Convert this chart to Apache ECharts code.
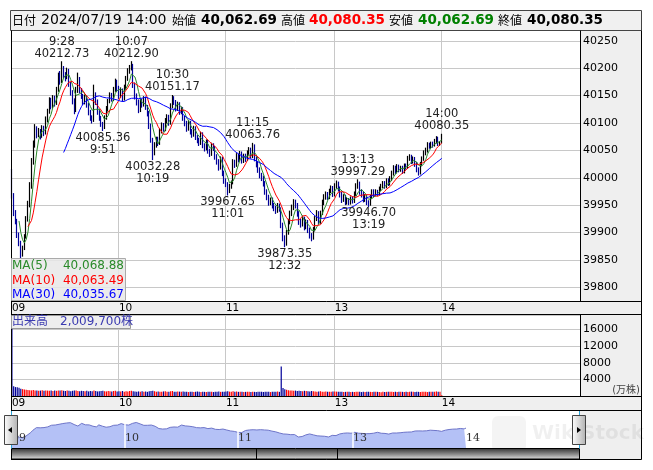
<!DOCTYPE html>
<html><head><meta charset="utf-8">
<script src="https://cdn.jsdelivr.net/npm/echarts@6/dist/echarts.min.js"></script>
<style>html,body{margin:0;padding:0;background:#fff}#c{width:653px;height:470px}</style>
</head><body><div id="c"></div>
<script>
// ---- data ----
const tradeDate = '2024/07/19';
// 1-minute candles [open, close, low, high], 9:00 - 11:30
const amCandles = [
[40012,39968,39962,40016],[39968,39938,39930,39972],[39938,39922,39915,39941],[39922,39896,39890,39925],[39896,39882,39875,39900],
[39882,39862,39852,39885],[39862,39872,39856,39876],[39872,39893,39868,39897],[39893,39926,39889,39930],[39926,39951,39920,39958],
[39951,39986,39946,39992],[39986,40030,39980,40036],[40030,40061,40024,40068],[40061,40090,40055,40098],[40090,40079,40072,40094],
[40079,40086,40074,40091],[40086,40077,40070,40089],[40077,40091,40073,40096],[40091,40082,40076,40095],[40082,40106,40079,40112],
[40106,40121,40101,40126],[40121,40141,40117,40147],[40141,40131,40125,40146],[40131,40146,40127,40151],[40146,40137,40130,40150],
[40137,40161,40133,40166],[40161,40186,40157,40192],[40186,40177,40170,40195],[40177,40199,40173,40212.73],[40199,40189,40182,40204],
[40189,40184,40176,40193],[40184,40196,40180,40201],[40196,40171,40166,40199],[40171,40156,40150,40175],[40156,40141,40134,40160],
[40141,40124,40116,40145],[40124,40160,40120,40166],[40160,40181,40155,40192],[40181,40160,40154,40184],[40160,40150,40144,40164],
[40150,40139,40133,40153],[40139,40148,40134,40152],[40148,40134,40128,40151],[40134,40120,40114,40137],[40120,40110,40104,40124],
[40110,40105,40099,40114],[40105,40150,40102,40170],[40150,40140,40133,40156],[40140,40121,40115,40143],[40121,40110,40104,40125],
[40110,40099,40093,40113],[40099,40092,40085.36,40102],[40092,40110,40089,40114],[40110,40126,40106,40131],[40126,40140,40121,40144],
[40140,40151,40136,40156],[40151,40144,40139,40155],[40144,40161,40140,40166],[40161,40176,40157,40181],[40176,40164,40158,40179],
[40164,40150,40144,40168],[40150,40160,40146,40165],[40160,40145,40139,40163],[40145,40166,40141,40170],[40166,40181,40162,40186],
[40181,40195,40177,40200],[40195,40200,40190,40206],[40200,40205,40196,40212.90],[40205,40170,40164,40208],[40170,40150,40143,40174],
[40150,40139,40132,40154],[40139,40124,40118,40143],[40124,40140,40120,40145],[40140,40134,40128,40144],[40134,40145,40130,40149],
[40145,40130,40124,40148],[40130,40119,40112,40133],[40119,40095,40089,40122],[40095,40070,40064,40099],[40070,40045,40032.28,40073],
[40045,40060,40041,40065],[40060,40071,40055,40075],[40071,40064,40058,40075],[40064,40086,40060,40090],[40086,40096,40081,40101],
[40096,40089,40084,40100],[40089,40104,40085,40109],[40104,40111,40099,40116],[40111,40100,40095,40115],[40100,40131,40097,40136],
[40131,40145,40127,40151.17],[40145,40139,40133,40149],[40139,40127,40121,40142],[40127,40135,40122,40139],[40135,40120,40115,40138],
[40120,40126,40116,40130],[40126,40109,40104,40129],[40109,40100,40094,40113],[40100,40090,40084,40104],[40090,40101,40086,40105],
[40101,40085,40079,40104],[40085,40079,40073,40089],[40079,40091,40075,40095],[40091,40074,40069,40094],[40074,40069,40063,40078],
[40069,40064,40058,40073],[40064,40080,40060,40084],[40080,40059,40054,40083],[40059,40054,40048,40063],[40054,40066,40050,40070],
[40066,40049,40044,40069],[40049,40044,40038,40053],[40044,40060,40040,40064],[40060,40054,40049,40063],[40054,40039,40033,40058],
[40039,40030,40024,40043],[40030,40019,40013,40034],[40019,40035,40015,40039],[40035,40009,40003,40038],[40009,39995,39989,40013],
[39995,39989,39983,39999],[39989,39976,39967.65,39992],[39976,39985,39972,39989],[39985,39991,39980,39995],[39991,40029,39988,40034],
[40029,40024,40018,40033],[40024,40040,40020,40045],[40040,40034,40028,40044],[40034,40045,40030,40049],[40045,40031,40026,40048],
[40031,40040,40027,40044],[40040,40035,40029,40044],[40035,40046,40031,40050],[40046,40051,40042,40056],[40051,40040,40035,40055],
[40040,40058,40036,40063.76],[40058,40035,40030,40061],[40035,40025,40019,40039],[40025,40015,40009,40029],[40015,40005,39999,40019],
[40005,40000,39994,40009],[40000,39990,39984,40004],[39990,39975,39969,39994],[39975,39965,39959,39979],[39965,39955,39949,39969],
[39955,39960,39950,39964],[39960,39950,39944,39964],[39950,39945,39939,39954],[39945,39940,39934,39949],[39940,39950,39936,39954],
[39950,39942,39938,39953]
];
// 12:30 - 14:00
const pmCandles = [
[39942,39915,39908,39946],[39915,39890,39884,39918],[39890,39880,39873.35,39895],[39880,39900,39876,39905],[39900,39920,39896,39925],
[39920,39935,39915,39940],[39935,39946,39930,39951],[39946,39955,39941,39961],[39955,39950,39944,39960],[39950,39935,39929,39954],
[39935,39920,39914,39939],[39920,39915,39909,39925],[39915,39926,39911,39931],[39926,39910,39904,39929],[39910,39920,39906,39924],
[39920,39905,39899,39923],[39905,39895,39889,39909],[39895,39890,39884,39899],[39890,39906,39887,39910],[39906,39925,39902,39930],
[39925,39936,39921,39941],[39936,39920,39915,39939],[39920,39936,39916,39940],[39936,39955,39932,39960],[39955,39965,39950,39970],
[39965,39970,39960,39975],[39970,39965,39959,39974],[39965,39976,39961,39980],[39976,39981,39972,39986],[39981,39970,39965,39985],
[39970,39985,39966,39990],[39985,39990,39980,39995],[39990,39980,39975,39993],[39980,39970,39964,39984],[39970,39960,39954,39974],
[39960,39966,39956,39970],[39966,39955,39950,39969],[39955,39960,39951,39964],[39960,39955,39950,39963],[39955,39962,39951,39966],
[39962,39958,39953,39966],[39958,39971,39954,39975],[39971,39985,39967,39990],[39985,39990,39980,39997.29],[39990,39975,39969,39993],
[39975,39970,39964,39979],[39970,39960,39955,39974],[39960,39966,39956,39970],[39966,39955,39950,39969],[39955,39952,39946.70,39959],
[39952,39965,39949,39969],[39965,39975,39961,39979],[39975,39970,39965,39979],[39970,39975,39966,39979],[39975,39972,39967,39978],
[39972,39980,39968,39984],[39980,39985,39976,39989],[39985,39990,39981,39994],[39990,39985,39980,39994],[39985,39995,39981,39999],
[39995,39990,39985,39999],[39990,39997.2,39986,40003],[39997.2,40008,39994,40013],[40008,40018,40004,40023],[40018,40012,40007,40022],
[40012,40020,40008,40025],[40020,40015,40010,40024],[40015,40018,40011,40022],[40018,40012,40007,40022],[40012,40022,40008,40026],
[40022,40020,40015,40026],[40020,40035,40016,40040],[40035,40038,40031,40043],[40038,40030,40025,40042],[40030,40035,40026,40039],
[40035,40025,40020,40038],[40025,40015,40010,40029],[40015,40010,40004,40019],[40010,40025,40006,40029],[40025,40035,40021,40039],
[40035,40045,40031,40050],[40045,40050,40041,40055],[40050,40060,40046,40065],[40060,40058,40053,40064],[40058,40062,40054,40066],
[40062,40060.5,40055,40066],[40060.5,40067,40057,40071],[40067,40072,40063,40076],[40072,40062.36,40058,40075],[40062.36,40062.69,40058,40067],
[40062.69,40080.35,40062.69,40080.35]
];
// volume per minute (万株)
const amVolume = [
16300,2350,2150,2100,2000,1750,1650,1550,1500,1450,
1400,1350,1450,1300,1350,1250,1300,1400,1250,1350,
1300,1250,1350,1200,1300,1250,1350,1300,1400,1250,
1200,1300,1250,1150,1250,1300,1350,1200,1150,1250,
1200,1150,1250,1100,1200,1150,1300,1200,1100,1150,
1200,1250,1150,1100,1200,1150,1100,1200,1250,1100,
1150,1100,1200,1050,1150,1100,1200,1250,1150,1100,
1050,1100,1000,1150,1050,1100,1000,1150,1200,1250,
1150,1050,1100,1000,1050,1100,1150,1050,1000,1150,
1200,1050,1000,1100,1050,1000,1100,1050,1000,950,
1000,1050,950,1000,1100,1000,950,1050,1000,950,
1000,1050,1000,950,1000,1050,1100,1000,1050,1000,
1100,1150,1050,1000,1150,1050,1100,1000,1050,1000,
950,1000,1050,1000,950,1050,1000,950,1000,1050,
1000,950,1000,1050,1000,950,1000,1050,1000,1100,
1000
];
const pmVolume = [
7100,1900,1600,1500,1400,1350,1300,1250,1300,1200,
1250,1200,1150,1250,1200,1150,1100,1200,1150,1100,
1050,1100,1150,1050,1000,1100,1050,1000,1050,1100,
1100,1050,1000,1050,1000,950,1000,1050,1000,950,
1000,950,1000,1050,1000,950,1000,950,1000,1050,
1000,950,1000,1050,1000,950,900,1000,950,1000,
1000,1050,1000,950,1000,950,1000,1050,1000,950,
1000,950,1000,1050,1000,950,1000,1000,950,1000,
1050,1000,950,1000,1050,1000,1050,1100,1050,1000,
200.97
];
// labelled highs / lows
const annotations = [
  ['9:28','top'],['9:51','bottom'],['10:07','top'],['10:19','bottom'],['10:30','top'],
  ['11:01','bottom'],['11:15','top'],['12:32','bottom'],['13:13','top'],['13:19','bottom'],['14:00','top']
];
const hourMarks = ['9:00','10:00','11:00','13:00','14:00'];

// ---- categories (minute slots) ----
function minuteRange(h0,m0,h1,m1){const o=[];for(let t=h0*60+m0;t<=h1*60+m1;t++){o.push(Math.floor(t/60)+':'+String(t%60).padStart(2,'0'));}return o;}
const sessionTimes = minuteRange(9,0,11,30).concat(minuteRange(12,30,15,0));
const mainTimes = sessionTimes.concat(minuteRange(15,1,15,17));

const candles = amCandles.concat(pmCandles);
const volumes = amVolume.concat(pmVolume);
const closes = candles.map(r=>r[1]);
function movingAverage(n){return closes.map((c,i)=>i<n-1?'-':closes.slice(i-n+1,i+1).reduce((a,b)=>a+b,0)/n);}
const ma5=movingAverage(5), ma10=movingAverage(10), ma30=movingAverage(30);
const fmt = v => v.toLocaleString('en-US',{minimumFractionDigits:2,maximumFractionDigits:2});
const last = candles[candles.length-1];
const lastTime = sessionTimes[candles.length-1];
const lastVol = volumes[volumes.length-1];

const UP='#000000', DOWN='#000099';
const FONT='"DejaVu Sans","Noto Sans CJK JP",sans-serif';
const CJK='"Noto Sans CJK JP",sans-serif';
const hourFmt = v => v.split(':')[0].padStart(2,'0');
const isHour = (i,v) => hourMarks.indexOf(v) >= 0;
const isGridHour = (i,v) => hourMarks.indexOf(v) > 0;

const markData = annotations.map(([t,side])=>{
  const row = candles[sessionTimes.indexOf(t)];
  const v = side==='top' ? row[3] : row[2];
  return {coord:[t,v], label:{position:side, distance: side==='top'?1:0,
    formatter: side==='top' ? t+'\n'+v.toFixed(2) : v.toFixed(2)+'\n'+t}};
});

function txt(x,y,text,font,fill,align){return {type:'text',z:70,style:{x:x,y:y,text:text,font:font,fill:fill,
  align:align||'left',textAlign:align||'left',verticalAlign:'middle',textVerticalAlign:'middle'}};}
function line(x1,y1,x2,y2,c){return {type:'line',z:60,shape:{x1:x1,y1:y1,x2:x2,y2:y2},style:{stroke:c||'#000',lineWidth:1}};}
function panel(x,y,w,h,c){return {type:'rect',z:-10,shape:{x:x,y:y,width:w,height:h},style:{fill:c||'#efefef'}};}

const RIGHT=641.5;
const graphic = [
  panel(580,31,62,270), panel(11,301,631,14), panel(580,315,62,82), panel(11,397,631,13), panel(580,410,62,49),
  {type:'rect',z:50,shape:{x:10.5,y:10.5,width:631,height:20},style:{fill:'#f0f0f0',stroke:'#444',lineWidth:1}},
  txt(12,20.5,'日付','12px '+CJK,'#000'),
  txt(41,20.5,tradeDate+' '+lastTime,'14px '+FONT,'#000'),
  txt(172,20.5,'始値','12px '+CJK,'#000'),
  txt(201,20.5,fmt(last[0]),'bold 13.5px '+FONT,'#000'),
  txt(281,20.5,'高値','12px '+CJK,'#000'),
  txt(309,20.5,fmt(last[3]),'bold 13.5px '+FONT,'#ff0000'),
  txt(389,20.5,'安値','12px '+CJK,'#000'),
  txt(418,20.5,fmt(last[2]),'bold 13.5px '+FONT,'#008000'),
  txt(498,20.5,'終値','12px '+CJK,'#000'),
  txt(527,20.5,fmt(last[1]),'bold 13.5px '+FONT,'#000'),
  // MA legend
  {type:'rect',z:65,shape:{x:11.5,y:258.5,width:114,height:42},style:{fill:'rgba(232,232,232,0.85)',stroke:'#aaa',lineWidth:1}},
  txt(12,266,'MA(5)','12px '+FONT,'#2a8a2a'), txt(124,266,fmt(ma5[ma5.length-1]),'12px '+FONT,'#2a8a2a','right'),
  txt(12,280.5,'MA(10)','12px '+FONT,'#ff0000'), txt(124,280.5,fmt(ma10[ma10.length-1]),'12px '+FONT,'#ff0000','right'),
  txt(12,295,'MA(30)','12px '+FONT,'#0000ff'), txt(124,295,fmt(ma30[ma30.length-1]),'12px '+FONT,'#0000ff','right'),
  // volume legend
  {type:'rect',z:65,shape:{x:11.5,y:315.5,width:119,height:13},style:{fill:'#eeeeee',stroke:'#999',lineWidth:1}},
  txt(12,322,'出来高　'+Math.round(lastVol*10000).toLocaleString('en-US')+'株','12px '+FONT,'#3a3ab0'),
  txt(640,390,'(万株)','10px '+FONT,'#444','right'),
  // watermark
  {type:'rect',z:40,shape:{x:492,y:416,width:34,height:36,r:6},style:{fill:'rgba(0,0,0,0.045)'}},
  txt(532,434,'WikiStock','bold 20px '+FONT,'rgba(0,0,0,0.06)'),
  // scrollbar
  {type:'rect',z:60,shape:{x:11.5,y:448.5,width:568,height:10.5},style:{stroke:'#000',lineWidth:1,
    fill:new echarts.graphic.LinearGradient(0,0,0,1,[{offset:0,color:'#2e2e2e'},{offset:0.55,color:'#8c8c8c'},{offset:1,color:'#e2e2e2'}])}},
  line(256.5,448.5,256.5,459,'#000'), line(337.5,448.5,337.5,459,'#000'),
  // borders
  line(11.5,30.5,11.5,410,'#000'), line(11.5,410,11.5,448.5,'#29a3d9'),
  line(580.5,30.5,580.5,301,'#000'), line(580.5,315,580.5,397,'#000'), line(579.5,410,579.5,448.5,'#29a3d9'),
  line(RIGHT,30.5,RIGHT,459.5,'#000'),
  line(11,301.5,RIGHT,301.5), line(11,314.5,RIGHT,314.5), line(11,396.5,RIGHT,396.5),
  line(11,410.5,RIGHT,410.5), line(11,459.5,RIGHT,459.5),
  // navigator handles
  {type:'rect',z:80,shape:{x:4.5,y:415.5,width:13,height:29},style:{stroke:'#444',lineWidth:1,
    fill:new echarts.graphic.LinearGradient(0,0,1,0,[{offset:0,color:'#ffffff'},{offset:1,color:'#b0b0b0'}])}},
  {type:'polygon',z:81,shape:{points:[[8,430],[12,427],[12,433]]},style:{fill:'#000'}},
  {type:'rect',z:80,shape:{x:572.5,y:415.5,width:13,height:29},style:{stroke:'#444',lineWidth:1,
    fill:new echarts.graphic.LinearGradient(0,0,1,0,[{offset:0,color:'#ffffff'},{offset:1,color:'#b0b0b0'}])}},
  {type:'polygon',z:81,shape:{points:[[581,430],[577,427],[577,433]]},style:{fill:'#000'}}
];

const hourAxisLabel = {interval:isHour, formatter:hourFmt, align:'left', fontSize:10.5, color:'#000', fontFamily:FONT, margin:2};
const chart = echarts.init(document.getElementById('c'), null, {width:653,height:470});
chart.setOption({
  animation:false,
  backgroundColor:'#ffffff',
  textStyle:{fontFamily:FONT},
  grid:[
    {left:11,top:31,width:569,height:270},
    {left:11,top:315,width:569,height:81},
    {left:11,top:411,width:569,height:37}
  ],
  xAxis:[
    {type:'category',gridIndex:0,data:mainTimes,boundaryGap:true,axisLine:{show:false},axisTick:{show:false},
     axisLabel:hourAxisLabel,splitLine:{show:true,interval:isGridHour,lineStyle:{color:'#c8c8c8',width:1}}},
    {type:'category',gridIndex:1,data:mainTimes,boundaryGap:true,axisLine:{show:false},axisTick:{show:false},
     axisLabel:hourAxisLabel,splitLine:{show:true,interval:isGridHour,lineStyle:{color:'#c8c8c8',width:1}}},
    {type:'category',gridIndex:2,data:sessionTimes,boundaryGap:true,z:10,axisLine:{show:false},axisTick:{show:false},
     axisLabel:{interval:isHour,formatter:hourFmt,align:'left',inside:true,margin:4,fontSize:11,color:'#333',fontFamily:'"DejaVu Serif",serif'},
     splitLine:{show:false}}
  ],
  yAxis:[
    {type:'value',gridIndex:0,position:'right',min:39775,max:40268,interval:25,scale:true,
     axisLine:{show:false},axisTick:{show:false},
     axisLabel:{formatter:v=>v%50===0?String(v):'',fontSize:11,color:'#000',margin:3,fontFamily:FONT},
     splitLine:{show:true,lineStyle:{color:['rgba(0,0,0,0)','#c8c8c8'],width:1}}},
    {type:'value',gridIndex:1,position:'right',min:0,max:19500,interval:4000,
     axisLine:{show:false},axisTick:{show:false},
     axisLabel:{formatter:v=>(v>0&&v%4000===0)?String(v):'',fontSize:11,color:'#000',margin:3,fontFamily:FONT},
     splitLine:{show:true,lineStyle:{color:'#c8c8c8',width:1}}},
    {type:'value',gridIndex:2,min:39655,max:40445,show:false,splitLine:{show:false}}
  ],
  series:[
    {type:'candlestick',xAxisIndex:0,yAxisIndex:0,data:candles,barWidth:1.3,
     itemStyle:{color:UP,color0:DOWN,borderColor:UP,borderColor0:DOWN,borderWidth:1.2},
     markPoint:{symbol:'rect',symbolSize:[1,1],itemStyle:{color:'rgba(0,0,0,0)'},
       label:{show:true,color:'#222',fontSize:11.5,lineHeight:12,fontFamily:FONT},data:markData}},
    {type:'line',xAxisIndex:0,yAxisIndex:0,data:ma5,showSymbol:false,symbol:'none',lineStyle:{color:'#2a8a2a',width:1},z:3},
    {type:'line',xAxisIndex:0,yAxisIndex:0,data:ma10,showSymbol:false,symbol:'none',lineStyle:{color:'#ff0000',width:1},z:3},
    {type:'line',xAxisIndex:0,yAxisIndex:0,data:ma30,showSymbol:false,symbol:'none',lineStyle:{color:'#0000ff',width:1},z:3},
    {type:'bar',xAxisIndex:1,yAxisIndex:1,barWidth:1.2,
     data:volumes.map((v,i)=>({value:v,itemStyle:{color:candles[i][1]>=candles[i][0]?'#ff0000':DOWN}}))},
    {type:'line',xAxisIndex:2,yAxisIndex:2,data:closes,showSymbol:false,symbol:'none',
     lineStyle:{color:'#6e75c9',width:1},areaStyle:{color:'#b4c1f6',opacity:1},
     markLine:{silent:true,symbol:['none','none'],label:{show:false},lineStyle:{color:'#ffffff',width:1.5,type:'solid'},
       data:hourMarks.slice(1,4).map(t=>({xAxis:t}))}}
  ],
  graphic:graphic
});
</script>
</body></html>
